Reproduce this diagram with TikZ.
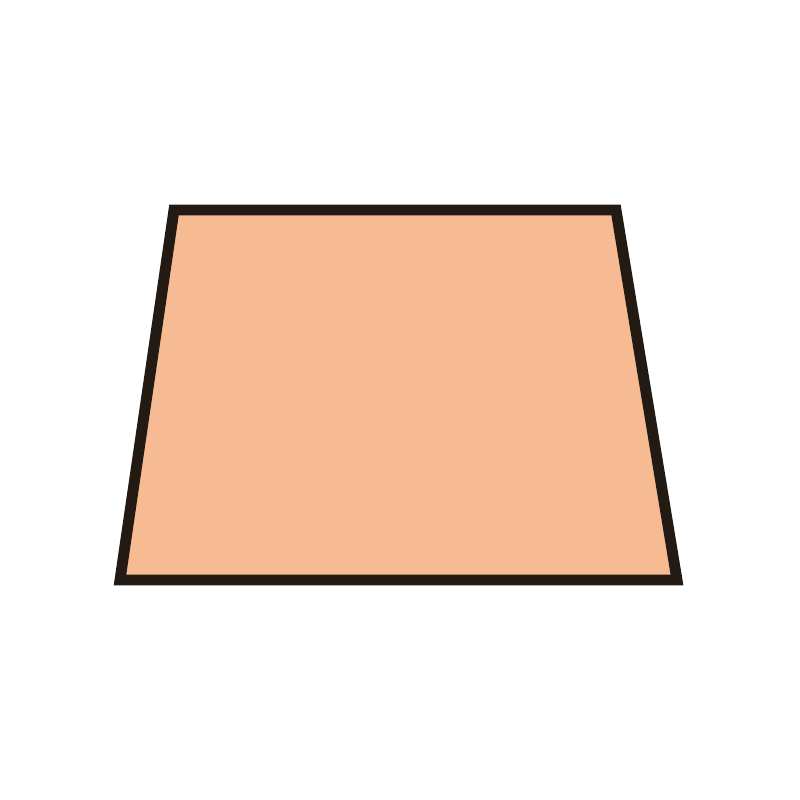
\documentclass[tikz,border=0pt]{standalone}
\usepackage{tikz}
\definecolor{peach}{HTML}{F7BB94}
\definecolor{edgebrown}{HTML}{231A14}
\tikzset{
    trapez/.style={
    draw=edgebrown,fill=peach,line width=3.1pt,line join=miter
    },
}
\begin{document}
\begin{tikzpicture}
  \useasboundingbox (0,0) rectangle (8,8);
  \coordinate (TL) at (1.74,5.90);
  \coordinate (TR) at (6.16,5.90);
  \coordinate (BR) at (6.77,2.20);
  \coordinate (BL) at (1.20,2.20);

  \draw[trapez] (TL) -- (TR) -- (BR) -- (BL) -- cycle;
\end{tikzpicture}
\end{document}
